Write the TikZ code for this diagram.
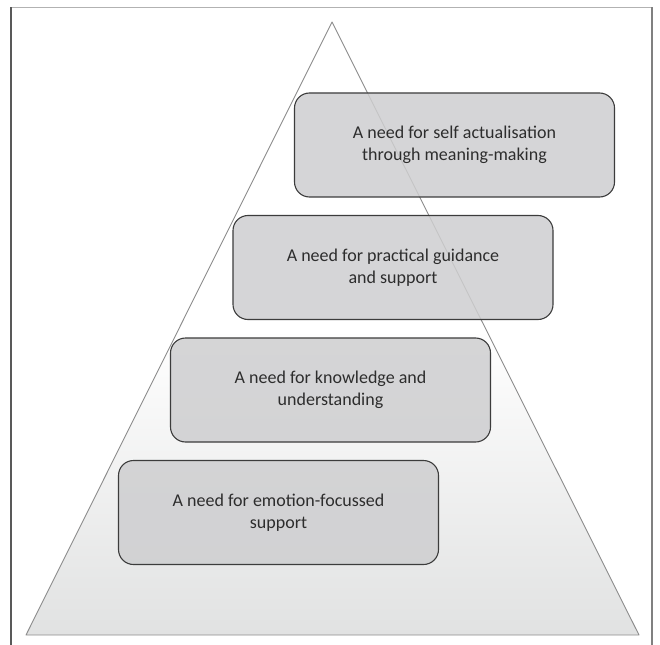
\documentclass[tikz,border=0pt]{standalone}
\usepackage{fontspec}
\setmainfont{Carlito}
\definecolor{trigrey}{RGB}{225,226,226}
\definecolor{triline}{RGB}{140,140,140}
\definecolor{boxfill}{RGB}{206,206,208}
\definecolor{boxline}{RGB}{60,60,60}
\definecolor{txt}{RGB}{45,45,45}
\pgfdeclareverticalshading{trishade}{100bp}{color(0bp)=(trigrey); color(25bp)=(trigrey); color(50bp)=(white); color(100bp)=(white)}
\tikzset{
  needbox/.style={draw=boxline, line width=1.1pt, fill=boxfill, fill opacity=0.85, text opacity=1,
    rounded corners=15pt, minimum width=320pt, minimum height=104pt, align=center,
    text=txt, font=\fontsize{18pt}{22pt}\selectfont, inner sep=0pt},
}
\begin{document}
\begin{tikzpicture}[x=1pt,y=-1pt]
\useasboundingbox (0,0) rectangle (660,644);
% frame
\draw[line width=1.2pt, color=gray!60] (11,7.5) -- (652,7.5);
\draw[line width=1.2pt, draw=black!65] (11,7.5) -- (11,650);
\draw[line width=1.2pt, draw=black!50] (652,7.5) -- (652,650);
% pyramid
\path[shading=trishade] (332,22) -- (639,635) -- (26,635) -- cycle;
\draw[triline, line width=0.9pt, line join=round] (332,22) -- (639,635) -- (26,635) -- cycle;
% boxes
\node[needbox] (n1) at (454.5,145) {A need for self actualisation\\ through meaning-making};
\node[needbox] (n2) at (393,267.5) {A need for practical guidance\\and support};
\node[needbox] (n3) at (330.5,390) {A need for knowledge and\\understanding};
\node[needbox] (n4) at (278.5,512.5) {A need for emotion-focussed\\support};
\end{tikzpicture}
\end{document}
